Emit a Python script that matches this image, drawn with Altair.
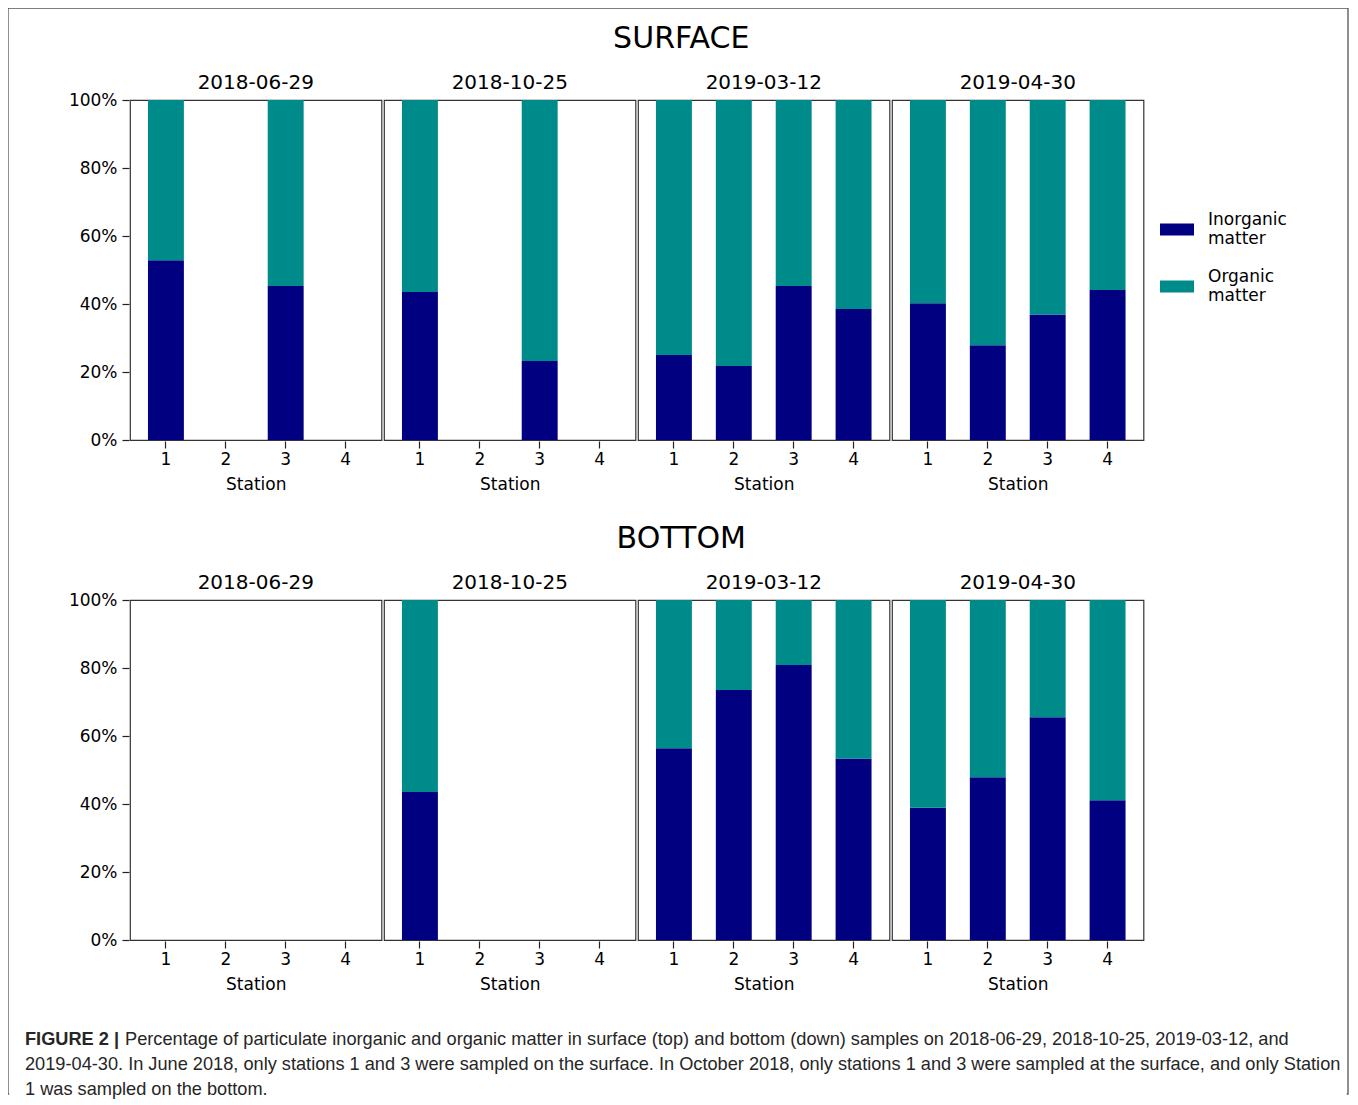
import altair as alt
import pandas as pd

dates = ["2018-06-29", "2018-10-25", "2019-03-12", "2019-04-30"]
stations = ["1", "2", "3", "4"]
matter_types = ["Inorganic matter", "Organic matter"]
matter_colors = ["#000080", "#008B8B"]
y_ticks = [0, 0.2, 0.4, 0.6, 0.8, 1.0]

# inorganic share (%) for stations 1-4; None = not sampled
surface_inorganic = {
    "2018-06-29": [52.9, None, 45.3, None],
    "2018-10-25": [43.5, None, 23.2, None],
    "2019-03-12": [25.0, 21.8, 45.3, 38.5],
    "2019-04-30": [40.2, 27.9, 36.9, 44.1],
}
bottom_inorganic = {
    "2018-06-29": [None, None, None, None],
    "2018-10-25": [43.5, None, None, None],
    "2019-03-12": [56.4, 73.5, 80.9, 53.4],
    "2019-04-30": [38.9, 47.9, 65.5, 41.1],
}

caption_bold = "FIGURE 2 |"
caption_line1 = ("Percentage of particulate inorganic and organic matter in surface (top) and bottom (down) "
                 "samples on 2018-06-29, 2018-10-25, 2019-03-12, and")
caption_line2 = ("2019-04-30. In June 2018, only stations 1 and 3 were sampled on the surface. In October 2018, "
                 "only stations 1 and 3 were sampled at the surface, and only Station")
caption_line3 = "1 was sampled on the bottom."


def long_table(inorganic):
    rows = []
    for d in dates:
        for s, v in zip(stations, inorganic[d]):
            inorg = None if v is None else v / 100
            org = None if v is None else (100 - v) / 100
            rows.append({"date": d, "station": s, "type": matter_types[0], "ord": 0, "value": inorg})
            rows.append({"date": d, "station": s, "type": matter_types[1], "ord": 1, "value": org})
    return pd.DataFrame(rows)


def panel_row(df, label):
    bars = alt.Chart(df).mark_bar(invalid="show").encode(
        x=alt.X("station:N", sort=stations,
                scale=alt.Scale(domain=stations, paddingInner=0.4, paddingOuter=0.3),
                axis=alt.Axis(title="Station", labelAngle=0, labelPadding=3, titlePadding=9)),
        y=alt.Y("value:Q", stack="zero",
                scale=alt.Scale(domain=[0, 1], nice=False),
                axis=alt.Axis(title=None, values=y_ticks, format=".0%", labelPadding=5)),
        color=alt.Color("type:N", scale=alt.Scale(domain=matter_types, range=matter_colors),
                        legend=alt.Legend(title=None, labelExpr="split(datum.label, ' ')")),
        order=alt.Order("ord:Q"),
    ).properties(width=251.5, height=340)
    fac = bars.facet(
        column=alt.Column("date:N", sort=dates,
                          header=alt.Header(title=None, labelFontSize=20, labelPadding=6,
                                            labelFont="DejaVu Sans", labelColor="#000")),
        spacing=0,
    ).properties(title=alt.TitleParams(label, fontSize=30, fontWeight="normal", anchor="middle",
                                       offset=19, dx=75))
    spacer = alt.Chart(pd.DataFrame({"s": [0]})).mark_rect(opacity=0).encode(
        x=alt.value(0), x2=alt.value(59), y=alt.value(0), y2=alt.value(1)
    ).properties(width=59, height=1, view=alt.ViewBackground(stroke="transparent"))
    return alt.hconcat(spacer, fac, spacing=0)


row_surface = panel_row(long_table(surface_inorganic), "SURFACE")
row_bottom = panel_row(long_table(bottom_inorganic), "BOTTOM")
inner = alt.vconcat(row_surface, row_bottom, spacing=32)

one = pd.DataFrame({"k": [0]})
frame = alt.Chart(one).mark_rect(fillOpacity=0, stroke="#555", strokeWidth=1.3).encode(
    x=alt.value(0), x2=alt.value(1340), y=alt.value(-1012), y2=alt.value(74))
# the figure frame continues below the visible page: hide its bottom edge
frame_open = alt.Chart(one).mark_rule(color="white", strokeWidth=2.5).encode(
    x=alt.value(1.2), x2=alt.value(1338.8), y=alt.value(74))


def cap_text(txt, x, y, bold=False):
    return alt.Chart(pd.DataFrame({"t": [txt]})).mark_text(
        align="left", baseline="middle", font="Liberation Sans", fontSize=18.2,
        fontWeight="bold" if bold else "normal", color="#262626",
    ).encode(text="t:N", x=alt.value(x), y=alt.value(y))


caption = alt.layer(
    frame,
    frame_open,
    cap_text(caption_bold, 17, 20, True),
    cap_text(caption_line1, 117, 20),
    cap_text(caption_line2, 17, 45),
    cap_text(caption_line3, 17, 70),
).properties(width=1340, height=74, view=alt.ViewBackground(stroke="transparent"))

chart = alt.vconcat(inner, caption, spacing=-986).properties(
    padding={"left": -2, "top": -2, "right": 0, "bottom": 0}
).configure(
    font="DejaVu Sans"
).configure_view(
    stroke="#333", strokeWidth=1.2
).configure_axis(
    domain=False, grid=False, tickColor="#222", tickSize=7, tickWidth=1.2,
    labelFontSize=17, labelColor="#000", labelFont="DejaVu Sans",
    titleFontSize=17, titleFontWeight="normal", titleColor="#000", titleFont="DejaVu Sans",
).configure_title(
    font="DejaVu Sans", fontSize=30, fontWeight="normal", color="#000", anchor="middle"
).configure_legend(
    orient="none", legendX=1152, legendY=103, padding=0,
    labelFontSize=17, labelFont="DejaVu Sans", labelColor="#000",
    symbolType="M-1,0.21H1V0.91H-1Z", symbolSize=1156, symbolStrokeWidth=0,
    symbolOpacity=1, labelOffset=14, rowPadding=13, labelLimit=200,
)

chart.save("out.html", embed_options={"renderer": "svg", "actions": False})
